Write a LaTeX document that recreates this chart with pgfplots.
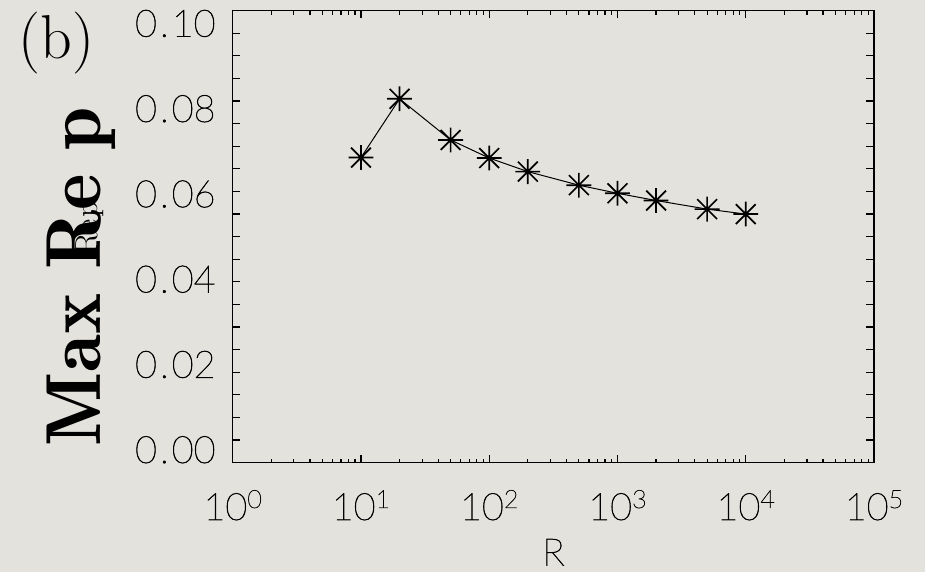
\documentclass[border=0pt]{standalone}
\usepackage{fontspec}
\usepackage{pgfplots}
\pgfplotsset{compat=1.18}

\newfontfamily\tickfont{Lato Hairline}[FakeBold=1.6]
\newfontfamily\demifont{lmromandemi10-regular.otf}
\definecolor{paper}{RGB}{228,226,221}

% tick label fonts
\newcommand\tk{\tickfont\fontsize{18.9pt}{20pt}\selectfont}
\newcommand\xtl[1]{{\tk 10\raisebox{6pt}{\fontsize{12.6pt}{13pt}\selectfont #1}}}
\newcommand\ytl[1]{{\tk 0\kern1.5pt.\kern1.5pt#1}}

% eight-armed asterisk (plus and cross)
\pgfdeclareplotmark{idlstar}{%
  \pgfpathmoveto{\pgfqpoint{0pt}{\pgfplotmarksize}}%
  \pgfpathlineto{\pgfqpoint{0pt}{-\pgfplotmarksize}}%
  \pgfpathmoveto{\pgfqpoint{\pgfplotmarksize}{0pt}}%
  \pgfpathlineto{\pgfqpoint{-\pgfplotmarksize}{0pt}}%
  \pgfpathmoveto{\pgfqpoint{0.8\pgfplotmarksize}{0.8\pgfplotmarksize}}%
  \pgfpathlineto{\pgfqpoint{-0.8\pgfplotmarksize}{-0.8\pgfplotmarksize}}%
  \pgfpathmoveto{\pgfqpoint{-0.8\pgfplotmarksize}{0.8\pgfplotmarksize}}%
  \pgfpathlineto{\pgfqpoint{0.8\pgfplotmarksize}{-0.8\pgfplotmarksize}}%
  \pgfusepathqstroke}

\pgfplotstableread{
R      rep
10     0.0675
20     0.0805
50     0.0714
100    0.0674
200    0.0644
500    0.0614
1000   0.0596
2000   0.0580
5000   0.0561
10000  0.0550
}\repdata

\begin{document}
\begin{tikzpicture}[x=0.5pt,y=0.5pt]
\useasboundingbox (0,0) rectangle (925,572);
\fill[paper] (0,0) rectangle (925,572);

\begin{axis}[
  at={(116.35pt,54.65pt)}, anchor=south west,
  scale only axis, width=320.65pt, height=226pt,
  xmode=log, xmin=1, xmax=1e5, ymin=0, ymax=0.1,
  axis line style={line width=0.65pt},
  every tick/.style={black, line width=0.6pt},
  tick align=inside,
  major tick length=3.8pt, minor tick length=2pt,
  xtick={1,10,100,1000,10000,100000},
  minor xtick={2,3,4,5,6,7,8,9,20,30,40,50,60,70,80,90,200,300,400,500,600,700,800,900,2000,3000,4000,5000,6000,7000,8000,9000,20000,30000,40000,50000,60000,70000,80000,90000},
  xticklabels={\xtl{0},\xtl{1},\xtl{2},\xtl{3},\xtl{4},\xtl{5}},
  xticklabel style={anchor=base, yshift=-28.65pt, inner sep=0pt},
  ytick={0,0.005,0.01,0.015,0.02,0.025,0.03,0.035,0.04,0.045,0.05,0.055,0.06,0.065,0.07,0.075,0.08,0.085,0.09,0.095,0.1},
  yticklabels={},
  xlabel={{\tk R}},
  xlabel style={at={(axis description cs:0.5,0)}, anchor=base, yshift=-51.4pt, inner sep=0pt},
]
\addplot[black, line width=0.5pt, mark=idlstar, mark size=6.2pt,
  mark options={line width=0.85pt}] table[x=R, y=rep] {\repdata};
\end{axis}

% y tick labels
\foreach \k/\t in {0/00,1/02,2/04,3/06,4/08,5/10}
  \node[anchor=base east, inner sep=0pt] at (216,{109+85.26*\k}) {\ytl{\t}};

% axis title, thin copy underneath the bold one
\node[rotate=90, anchor=base west, inner sep=0pt] at (97,317)
  {\fontsize{16pt}{16pt}\selectfont Re\kern1pt p};
\node[rotate=90, anchor=base east, inner sep=0pt] at (100,465)
  {\demifont\fontsize{39pt}{39pt}\selectfont Max\kern0.3em Re\kern0.3em p};

% panel tag
\node[anchor=north west, inner sep=0pt] at (18,560)
  {\fontsize{31pt}{31pt}\selectfont (b)};
\end{tikzpicture}
\end{document}
